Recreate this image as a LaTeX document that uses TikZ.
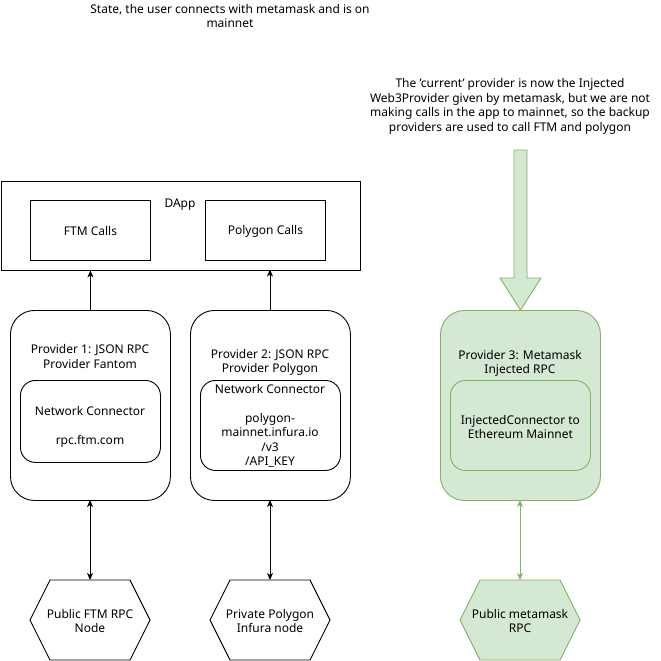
\documentclass[tikz,border=0pt]{standalone}
\usepackage{fontspec}
\setmainfont{Noto Sans}
\usetikzlibrary{arrows.meta,shapes.geometric}
\definecolor{gfill}{HTML}{D5E8D4}
\definecolor{gline}{HTML}{82B366}
\tikzset{
  txt/.style={font=\fontsize{12}{14.5}\selectfont, align=center, inner sep=0pt},
  box/.style={draw=black, line width=0.9pt, anchor=north west, inner sep=0pt},
  prov/.style={box, rounded corners=24pt, minimum width=160pt, minimum height=190pt},
  conn/.style={box, rounded corners=15pt, minimum width=140pt},
  gbox/.style={draw=gline, fill=gfill},
  tipa/.style={-{Stealth[length=7pt,width=6pt,inset=2pt]}},
  tipb/.style={{Stealth[length=7pt,width=6pt,inset=2pt]}-{Stealth[length=7pt,width=6pt,inset=2pt]}},
  link/.style={line width=0.9pt},
}
\newcommand{\sq}{\char"27\relax}
\begin{document}
\begin{tikzpicture}[x=1pt,y=-1pt]
\useasboundingbox (0,0) rectangle (661,661);
% texts on top
\node[txt] (title) at (230,16) {State, the user connects with metamask and is on\\mainnet};
\node[txt] (note) at (510,106.5) {The \sq current\sq\ provider is now the Injected\\Web3Provider given by metamask, but we are not\\making calls in the app to mainnet, so the backup\\providers are used to call FTM and polygon};
% DApp
\node[box, minimum width=359pt, minimum height=89pt] (dapp) at (0.5,180.5) {};
\node[txt] (dapplbl) at (180,205) {DApp};
\node[box, minimum width=120pt, minimum height=60pt] (ftm) at (30,200) {};
\node[txt] at ([yshift=-1pt]ftm.center) {FTM Calls};
\node[box, minimum width=120pt, minimum height=60pt] (poly) at (205,200) {};
\node[txt] at ([yshift=-1pt]poly.center) {Polygon Calls};
% Providers
\node[prov] (p1) at (10,310) {};
\node[txt] (p1lbl) at (90,356.5) {Provider 1: JSON RPC\\Provider Fantom};
\node[conn, minimum height=82pt] (c1) at (20,380) {};
\node[txt] (c1lbl) at (90,426.5) {Network Connector\\[14.5pt]rpc.ftm.com};
\node[prov] (p2) at (190,310) {};
\node[txt] (p2lbl) at (270,362.5) {Provider 2: JSON RPC\\Provider Polygon};
\node[conn, minimum height=90pt] (c2) at (200,380) {};
\node[txt] (c2lbl) at (270,426) {Network Connector\\[14.5pt]polygon-\\mainnet.infura.io\\/v3\\/API\_KEY};
\node[prov, gbox] (p3) at (440,310) {};
\node[txt] (p3lbl) at (520,363.5) {Provider 3: Metamask\\Injected RPC};
\node[conn, gbox, minimum height=90pt] (c3) at (450,380) {};
\node[txt] (c3lbl) at ([yshift=-1.5pt]c3.center) {InjectedConnector to\\Ethereum Mainnet};
% hexagons
\foreach \n/\cx/\t in {h1/90/{Public FTM RPC\\Node}, h2/270/{Private Polygon\\Infura node}}{
  \draw[link] (\cx-60,620) -- (\cx-40,580) -- (\cx+40,580) -- (\cx+60,620) -- (\cx+40,660) -- (\cx-40,660) -- cycle;
  \coordinate (\n) at (\cx,580);
  \node[txt] at (\cx,621) {\t};
}
\draw[link, draw=gline, fill=gfill] (460,620) -- (480,580) -- (560,580) -- (580,620) -- (560,660) -- (480,660) -- cycle;
\coordinate (h3) at (520,580);
\node[txt] at (520,621) {Public metamask\\RPC};
% connectors
\draw[link, tipa] (p1.north -| ftm.south) -- (ftm.south |- dapp.south);
\draw[link, tipa] (p2.north -| 270,0) -- (270,269.5);
\draw[link, tipb] (h1) -- (90,500);
\draw[link, tipb] (h2) -- (270,500);
\draw[link, tipb, draw=gline, fill=gline] (h3) -- (520,500);
% big arrow
\draw[line width=0.9pt, draw=gline, fill=gfill] (514,150) -- (527,150) -- (527,278) -- (541,278) -- (520.5,310) -- (500,278) -- (514,278) -- cycle;
\end{tikzpicture}
\end{document}
